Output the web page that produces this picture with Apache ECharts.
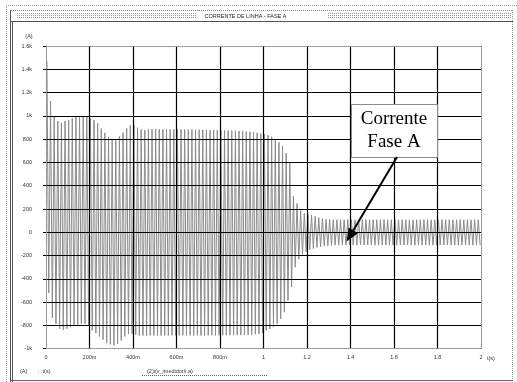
<!DOCTYPE html>
<html>
<head>
<meta charset="utf-8">
<script src="https://cdn.jsdelivr.net/npm/echarts@6/dist/echarts.min.js"></script>
<style>
html, body { margin: 0; padding: 0; background: #fff; }
#chart { width: 517px; height: 382px; }
</style>
</head>
<body>
<div id="chart"></div>
<script>
// Phase A line current, sampled as one positive and one negative peak per cycle (60 Hz)
const FREQ = 60;
const POS_PHASE = 0.25;   // fraction of a cycle where the positive peak occurs
const NEG_PHASE = 0.75;   // fraction of a cycle where the negative peak occurs

// Positive peak of each cycle (A)
const posPeaks = [
  1470, 1127, 998, 955, 940, 955, 963, 978, 992, 998,
  998, 998, 978, 963, 935, 892, 854, 820, 795, 790,
  826, 857, 892, 918, 923, 898, 883, 877, 883, 886,
  886, 885, 886, 885, 884, 884, 883, 884, 883, 882,
  882, 881, 881, 880, 879, 878, 877, 877, 876, 875,
  874, 873, 872, 870, 868, 866, 863, 860, 855, 849,
  843, 834, 820, 800, 775, 740, 680, 600, 310, 247,
  189, 163, 160, 150, 138, 126, 118, 112, 110, 108,
  108, 107, 108, 109, 108, 107, 108, 108, 109, 108,
  107, 108, 108, 109, 108, 108, 107, 108, 109, 108,
  108, 107, 108, 108, 109, 108, 107, 108, 108, 109,
  108, 108, 107, 108, 109, 108, 108, 107, 108, 108
];

// Negative peak of each cycle (A)
const negPeaks = [
  -522, -734, -786, -829, -837, -829, -815, -800, -794, -786,
  -786, -797, -843, -866, -895, -923, -952, -963, -972, -958,
  -929, -895, -872, -872, -880, -886, -886, -888, -886, -886,
  -886, -887, -886, -886, -885, -886, -886, -885, -886, -886,
  -886, -885, -886, -886, -885, -885, -886, -885, -885, -884,
  -884, -884, -883, -883, -882, -882, -880, -876, -872, -866,
  -843, -829, -815, -786, -743, -686, -585, -470, -300, -230,
  -190, -165, -150, -140, -130, -124, -118, -115, -112, -110,
  -110, -111, -110, -109, -110, -111, -110, -110, -109, -110,
  -111, -110, -110, -109, -110, -110, -111, -110, -109, -110,
  -110, -111, -110, -110, -109, -110, -111, -110, -110, -109,
  -110, -110, -111, -110, -109, -110, -110, -111, -110, -110
];

const xTickValues = [0, 0.2, 0.4, 0.6, 0.8, 1, 1.2, 1.4, 1.6, 1.8, 2];
const xTickLabels = ['0', '200m', '400m', '600m', '800m', '1', '1.2', '1.4', '1.6', '1.8', '2'];
const yTickValues = [1600, 1400, 1200, 1000, 800, 600, 400, 200, 0, -200, -400, -600, -800, -1000];
const yTickLabels = ['1.6k', '1.4k', '1.2k', '1k', '800', '600', '400', '200', '0', '-200', '-400', '-600', '-800', '-1k'];

const TITLE = 'CORRENTE DE LINHA - FASE A';
const SERIES_NAME = '(2)i(v_imedidor/i.a)';
const NOTE_LINES = ['Corrente', 'Fase A'];

// Build the waveform: peaks alternate positive / negative on a uniform time base
const wave = [];
for (let k = 0; k < posPeaks.length; k++) {
  wave.push([(k + POS_PHASE) / FREQ, posPeaks[k]]);
  wave.push([(k + NEG_PHASE) / FREQ, negPeaks[k]]);
}

const FONT = '"Liberation Sans", Arial, sans-serif';
const SMALL = 5.5;

function nearestLabel(values, labels, v) {
  let best = 0;
  for (let i = 1; i < values.length; i++) {
    if (Math.abs(values[i] - v) < Math.abs(values[best] - v)) best = i;
  }
  return labels[best];
}

const chart = echarts.init(document.getElementById('chart'), null, { renderer: 'canvas' });

const dotted = { color: '#8a8a8a', width: 1, type: [1, 1] };

chart.setOption({
  animation: false,
  backgroundColor: '#fff',
  grid: { left: 46, right: 36, top: 46, bottom: 33.3, containLabel: false },
  xAxis: [
    {
      type: 'value', min: 0, max: 2, interval: 0.2, position: 'bottom', z: 5,
      axisLine: { show: true, onZero: false, lineStyle: dotted },
      axisTick: { show: false },
      splitLine: { show: true, showMinLine: false, showMaxLine: false, lineStyle: { color: '#000', width: 1.2 } },
      axisLabel: {
        margin: 6, fontSize: SMALL, color: '#333', fontFamily: FONT,
        formatter: v => nearestLabel(xTickValues, xTickLabels, v)
      }
    },
    {
      type: 'value', min: 0, max: 2, interval: 0.2, position: 'top', z: 5,
      axisLine: { show: true, onZero: false, lineStyle: dotted },
      axisTick: { show: false }, splitLine: { show: false }, axisLabel: { show: false }
    }
  ],
  yAxis: [
    {
      type: 'value', min: -1000, max: 1600, interval: 200, position: 'left', z: 5,
      axisLine: { show: true, onZero: false, lineStyle: dotted },
      axisTick: { show: true, length: 3, lineStyle: { color: '#000', width: 1 } },
      splitLine: { show: true, showMinLine: false, showMaxLine: false, lineStyle: { color: '#000', width: 1.2 } },
      axisLabel: {
        margin: 14, fontSize: SMALL, color: '#333', fontFamily: FONT,
        formatter: v => nearestLabel(yTickValues, yTickLabels, v)
      }
    },
    {
      type: 'value', min: -1000, max: 1600, interval: 200, position: 'right', z: 5,
      axisLine: { show: true, onZero: false, lineStyle: dotted },
      axisTick: { show: false }, splitLine: { show: false }, axisLabel: { show: false }
    }
  ],
  series: [
    {
      name: SERIES_NAME,
      type: 'line',
      data: wave,
      showSymbol: false,
      silent: true,
      sampling: null,
      z: 2,
      lineStyle: { color: '#8c8c8c', width: 1 }
    }
  ]
});

// Page frame, title strip, axis captions and the callout
const frame = [];
function hline(x1, x2, y, stroke, dash) {
  frame.push({ type: 'line', silent: true, z: 10,
    shape: { x1, y1: y, x2, y2: y },
    style: { stroke, lineWidth: 1, lineDash: dash || null } });
}
function vline(x, y1, y2, stroke, dash) {
  frame.push({ type: 'line', silent: true, z: 10,
    shape: { x1: x, y1, x2: x, y2 },
    style: { stroke, lineWidth: 1, lineDash: dash || null } });
}
function text(x, y, t, opts) {
  frame.push(Object.assign({ type: 'text', silent: true, z: 12, x, y,
    style: Object.assign({ text: t, fill: '#333', font: SMALL + 'px ' + FONT,
      textAlign: 'left', textVerticalAlign: 'middle' }, opts || {}) }));
}

// outer dotted border
hline(6, 517, 5.5, '#9a9a9a', [1, 1]);
vline(6.5, 5, 382, '#9a9a9a', [1, 1]);
// title strip
hline(11, 513, 10.5, '#888', [1, 1]);
hline(11, 513, 21.5, '#555');
for (const y of [13.5, 15.5, 17.5]) {
  hline(17, 197, y, '#9a9a9a', [1, 1]);
  hline(328, 512, y, '#9a9a9a', [1, 1]);
}
text(245.5, 16, TITLE, { textAlign: 'center', fill: '#222' });
// inner frame
vline(10.5, 10, 382, '#555');
vline(12.5, 21, 382, '#555');
vline(512.5, 10, 381, '#9a9a9a', [1, 1]);
hline(11, 513, 380.5, '#666');
// captions
text(29, 36, '(A)', { textAlign: 'center' });
text(487, 358, 't(s)');
text(20, 371, '(A)');
text(38, 371, ':  t(s)');
text(147, 371, SERIES_NAME);
hline(142, 267, 375.5, '#666', [1, 1]);

// callout box pointing at the post-transient current
const box = { x: 351, y: 104, w: 86, h: 53 };
frame.push({ type: 'rect', silent: true, z: 14,
  shape: { x: box.x + 0.5, y: box.y + 0.5, width: box.w, height: box.h },
  style: { fill: '#fff', stroke: '#8a8a8a', lineWidth: 1 } });
frame.push({ type: 'text', silent: true, z: 15, x: box.x + box.w / 2, y: box.y + box.h / 2,
  style: { text: NOTE_LINES.join('\n'), fill: '#000',
    font: '19px "Liberation Serif", "Times New Roman", serif', lineHeight: 23,
    textAlign: 'center', textVerticalAlign: 'middle' } });

const tail = [397, box.y + box.h];
const tip = chart.convertToPixel({ gridIndex: 0 }, [1.382, -80]);
const ang = Math.atan2(tip[1] - tail[1], tip[0] - tail[0]);
const headLen = 13, headHalf = 5.5;
const bx = tip[0] - headLen * Math.cos(ang), by = tip[1] - headLen * Math.sin(ang);
frame.push({ type: 'line', silent: true, z: 14,
  shape: { x1: tail[0], y1: tail[1], x2: bx, y2: by },
  style: { stroke: '#000', lineWidth: 2 } });
frame.push({ type: 'polygon', silent: true, z: 14,
  shape: { points: [tip,
    [bx + headHalf * Math.sin(ang), by - headHalf * Math.cos(ang)],
    [bx - headHalf * Math.sin(ang), by + headHalf * Math.cos(ang)]] },
  style: { fill: '#000' } });

chart.setOption({ graphic: frame });
</script>
</body>
</html>
